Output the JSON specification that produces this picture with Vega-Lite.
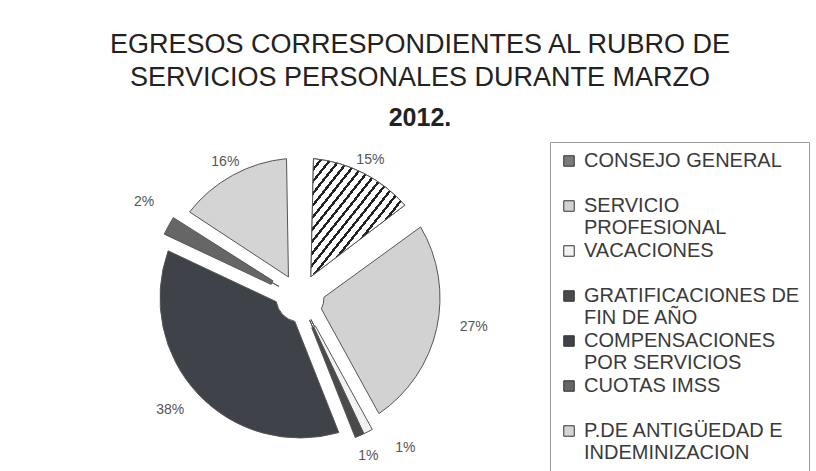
{
  "$schema": "https://vega.github.io/schema/vega-lite/v6.json",
  "autosize": {"type": "none"},
  "width": 300,
  "height": 296,
  "padding": {"left": 150, "top": 150, "right": 366, "bottom": 25},
  "background": "white",
  "config": {"view": {"stroke": null}, "font": "Liberation Sans"},
  "title": {
    "text": ["EGRESOS CORRESPONDIENTES AL RUBRO DE", "SERVICIOS PERSONALES DURANTE MARZO"],
    "subtitle": "2012.",
    "font": "Liberation Sans",
    "fontSize": 27,
    "fontWeight": "normal",
    "color": "#222222",
    "lineHeight": 33,
    "subtitleFont": "Liberation Sans",
    "subtitleFontSize": 25,
    "subtitleFontWeight": "bold",
    "subtitleColor": "#222222",
    "subtitlePadding": 14,
    "anchor": "middle",
    "dx": 120,
    "offset": -10
  },
  "data": {
    "values": [
      {"category": "CONSEJO GENERAL", "value": 0.15, "orden": 1},
      {"category": "SERVICIO PROFESIONAL", "value": 0.27, "orden": 2},
      {"category": "VACACIONES", "value": 0.01, "orden": 3},
      {"category": "GRATIFICACIONES DE FIN DE AÑO", "value": 0.01, "orden": 4},
      {"category": "COMPENSACIONES POR SERVICIOS", "value": 0.38, "orden": 5},
      {"category": "CUOTAS IMSS", "value": 0.02, "orden": 6},
      {"category": "P.DE ANTIGÜEDAD E INDEMINIZACION", "value": 0.16, "orden": 7}
    ]
  },
  "encoding": {
    "theta": {"field": "value", "type": "quantitative", "stack": true},
    "order": {"field": "orden", "type": "quantitative", "sort": "ascending"},
    "color": {
      "field": "category",
      "type": "nominal",
      "scale": {
        "domain": ["CONSEJO GENERAL", "SERVICIO PROFESIONAL", "VACACIONES", "GRATIFICACIONES DE FIN DE AÑO", "COMPENSACIONES POR SERVICIOS", "CUOTAS IMSS", "P.DE ANTIGÜEDAD E INDEMINIZACION"],
        "range": ["#7a7a7a", "#d2d2d2", "#f2f2f2", "#4a4a4a", "#3f4249", "#666666", "#d4d4d4"]
      },
      "legend": {
        "title": null,
        "orient": "none",
        "legendX": 400,
        "legendY": -8,
        "symbolType": "square",
        "symbolSize": 110,
        "symbolStrokeColor": "#333333",
        "symbolStrokeWidth": 1,
        "labelFont": "Liberation Sans",
        "labelFontSize": 20,
        "labelColor": "#3a3a3a",
        "labelLimit": 400,
        "labelOffset": 5,
        "rowPadding": 3,
        "padding": 9,
        "strokeColor": "#999999",
        "fillColor": "white",
        "labelExpr": "datum.label == 'SERVICIO PROFESIONAL' ? ['SERVICIO', 'PROFESIONAL'] : datum.label == 'GRATIFICACIONES DE FIN DE AÑO' ? ['GRATIFICACIONES DE', 'FIN DE AÑO'] : datum.label == 'COMPENSACIONES POR SERVICIOS' ? ['COMPENSACIONES', 'POR SERVICIOS'] : datum.label == 'P.DE ANTIGÜEDAD E INDEMINIZACION' ? ['P.DE ANTIGÜEDAD E', 'INDEMINIZACION'] : [datum.label, ' ']",
        "encode": {"labels": {"update": {"lineHeight": {"value": 22}}}}
      }
    }
  },
  "layer": [
    {
      "mark": {"type": "arc", "outerRadius": 140, "innerRadius": 24, "padAngle": 0.19, "stroke": "#555555", "strokeWidth": 1}
    },
    {
      "mark": {"type": "arc", "outerRadius": 150, "innerRadius": 32, "stroke": "#555555", "strokeWidth": 1},
      "encoding": {
        "opacity": {"condition": {"test": "datum.value <= 0.02", "value": 1}, "value": 0}
      }
    },
    {
      "mark": {"type": "arc", "outerRadius": 140, "innerRadius": 24, "padAngle": 0.19, "stroke": "#555555", "strokeWidth": 1},
      "encoding": {
        "fill": {"value": {"gradient": "linear", "x1": 0, "y1": 0, "x2": 1, "y2": 1, "stops": [
          {"offset": 0, "color": "#222222"}, {"offset": 0.016, "color": "#222222"}, {"offset": 0.016, "color": "#ffffff"},
          {"offset": 0.05, "color": "#ffffff"}, {"offset": 0.05, "color": "#222222"}, {"offset": 0.066, "color": "#222222"}, {"offset": 0.066, "color": "#ffffff"},
          {"offset": 0.1, "color": "#ffffff"}, {"offset": 0.1, "color": "#222222"}, {"offset": 0.116, "color": "#222222"}, {"offset": 0.116, "color": "#ffffff"},
          {"offset": 0.15, "color": "#ffffff"}, {"offset": 0.15, "color": "#222222"}, {"offset": 0.166, "color": "#222222"}, {"offset": 0.166, "color": "#ffffff"},
          {"offset": 0.2, "color": "#ffffff"}, {"offset": 0.2, "color": "#222222"}, {"offset": 0.216, "color": "#222222"}, {"offset": 0.216, "color": "#ffffff"},
          {"offset": 0.25, "color": "#ffffff"}, {"offset": 0.25, "color": "#222222"}, {"offset": 0.266, "color": "#222222"}, {"offset": 0.266, "color": "#ffffff"},
          {"offset": 0.3, "color": "#ffffff"}, {"offset": 0.3, "color": "#222222"}, {"offset": 0.316, "color": "#222222"}, {"offset": 0.316, "color": "#ffffff"},
          {"offset": 0.35, "color": "#ffffff"}, {"offset": 0.35, "color": "#222222"}, {"offset": 0.366, "color": "#222222"}, {"offset": 0.366, "color": "#ffffff"},
          {"offset": 0.4, "color": "#ffffff"}, {"offset": 0.4, "color": "#222222"}, {"offset": 0.416, "color": "#222222"}, {"offset": 0.416, "color": "#ffffff"},
          {"offset": 0.45, "color": "#ffffff"}, {"offset": 0.45, "color": "#222222"}, {"offset": 0.466, "color": "#222222"}, {"offset": 0.466, "color": "#ffffff"},
          {"offset": 0.5, "color": "#ffffff"}, {"offset": 0.5, "color": "#222222"}, {"offset": 0.516, "color": "#222222"}, {"offset": 0.516, "color": "#ffffff"},
          {"offset": 0.55, "color": "#ffffff"}, {"offset": 0.55, "color": "#222222"}, {"offset": 0.566, "color": "#222222"}, {"offset": 0.566, "color": "#ffffff"},
          {"offset": 0.6, "color": "#ffffff"}, {"offset": 0.6, "color": "#222222"}, {"offset": 0.616, "color": "#222222"}, {"offset": 0.616, "color": "#ffffff"},
          {"offset": 0.65, "color": "#ffffff"}, {"offset": 0.65, "color": "#222222"}, {"offset": 0.666, "color": "#222222"}, {"offset": 0.666, "color": "#ffffff"},
          {"offset": 0.7, "color": "#ffffff"}, {"offset": 0.7, "color": "#222222"}, {"offset": 0.716, "color": "#222222"}, {"offset": 0.716, "color": "#ffffff"},
          {"offset": 0.75, "color": "#ffffff"}, {"offset": 0.75, "color": "#222222"}, {"offset": 0.766, "color": "#222222"}, {"offset": 0.766, "color": "#ffffff"},
          {"offset": 0.8, "color": "#ffffff"}, {"offset": 0.8, "color": "#222222"}, {"offset": 0.816, "color": "#222222"}, {"offset": 0.816, "color": "#ffffff"},
          {"offset": 0.85, "color": "#ffffff"}, {"offset": 0.85, "color": "#222222"}, {"offset": 0.866, "color": "#222222"}, {"offset": 0.866, "color": "#ffffff"},
          {"offset": 0.9, "color": "#ffffff"}, {"offset": 0.9, "color": "#222222"}, {"offset": 0.916, "color": "#222222"}, {"offset": 0.916, "color": "#ffffff"},
          {"offset": 0.95, "color": "#ffffff"}, {"offset": 0.95, "color": "#222222"}, {"offset": 0.966, "color": "#222222"}, {"offset": 0.966, "color": "#ffffff"},
          {"offset": 1, "color": "#ffffff"}
        ]}},
        "opacity": {"condition": {"test": "datum.category == 'CONSEJO GENERAL'", "value": 1}, "value": 0}
      }
    },
    {
      "mark": {"type": "text", "radius": 155, "fontSize": 14, "font": "Liberation Sans"},
      "encoding": {
        "text": {"field": "value", "type": "quantitative", "format": ".0%"},
        "color": {"value": "#555555"},
        "opacity": {"condition": {"test": "datum.category == 'CONSEJO GENERAL' || datum.category == 'P.DE ANTIGÜEDAD E INDEMINIZACION'", "value": 1}, "value": 0}
      }
    },
    {
      "mark": {"type": "text", "radius": 178, "dy": -10, "fontSize": 14, "font": "Liberation Sans"},
      "encoding": {
        "text": {"field": "value", "type": "quantitative", "format": ".0%"},
        "color": {"value": "#555555"},
        "opacity": {"condition": {"test": "datum.category == 'SERVICIO PROFESIONAL' || datum.category == 'COMPENSACIONES POR SERVICIOS' || datum.category == 'CUOTAS IMSS'", "value": 1}, "value": 0}
      }
    },
    {
      "mark": {"type": "text", "radius": 168, "dx": 29, "fontSize": 14, "font": "Liberation Sans"},
      "encoding": {
        "text": {"field": "value", "type": "quantitative", "format": ".0%"},
        "color": {"value": "#555555"},
        "opacity": {"condition": {"test": "datum.category == 'VACACIONES'", "value": 1}, "value": 0}
      }
    },
    {
      "mark": {"type": "text", "radius": 172, "fontSize": 14, "font": "Liberation Sans"},
      "encoding": {
        "text": {"field": "value", "type": "quantitative", "format": ".0%"},
        "color": {"value": "#555555"},
        "opacity": {"condition": {"test": "datum.category == 'GRATIFICACIONES DE FIN DE AÑO'", "value": 1}, "value": 0}
      }
    }
  ]
}
